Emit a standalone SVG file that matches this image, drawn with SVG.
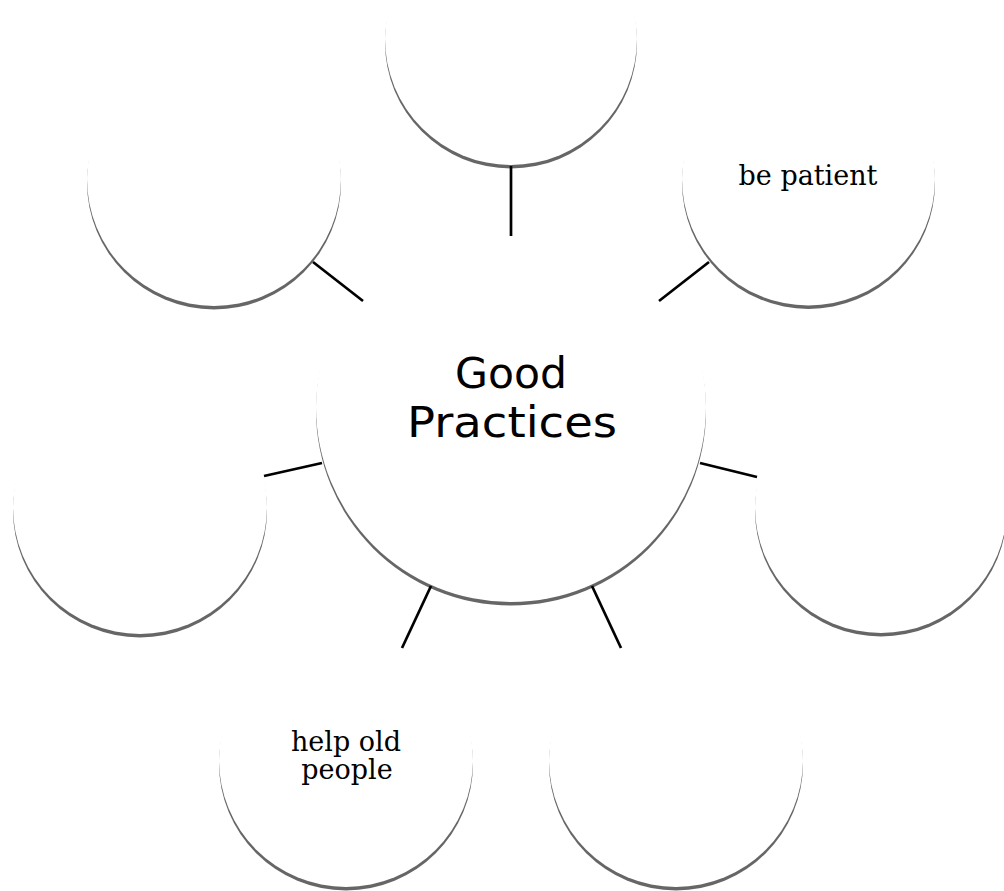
<svg xmlns="http://www.w3.org/2000/svg" width="1004" height="891" viewBox="0 0 1004 891">
  <defs>
    <filter id="blur" x="-5%" y="-5%" width="110%" height="110%">
      <feGaussianBlur stdDeviation="0.7"/>
    </filter>
  </defs>
  <style>
    .sh { fill: #666666; filter: url(#blur); }
    .bub { fill: #ffffff; }
    .conn line { stroke: #000000; stroke-width: 2.7; stroke-linecap: butt; }
    .hand { font-family: "Comic Sans MS", "DejaVu Sans", sans-serif; font-size: 42px; fill: #000; text-anchor: middle; }
    .lbl { font-family: "DejaVu Serif", "Liberation Serif", serif; font-size: 27px; fill: #000; text-anchor: middle; }
  </style>
  <rect width="1004" height="891" fill="#ffffff"/>

  <g id="node-top">
    <circle class="sh" cx="511" cy="42.5" r="126"/>
    <circle class="bub" cx="511" cy="39" r="126"/>
  </g>

  <g id="node-top-left">
    <circle class="sh" cx="214" cy="182.5" r="127"/>
    <circle class="bub" cx="214" cy="179" r="127"/>
  </g>

  <g id="node-top-right">
    <circle class="sh" cx="808.5" cy="182.5" r="126.5"/>
    <circle class="bub" cx="808.5" cy="179" r="126.5"/>
    <text class="lbl" x="808" y="185">be patient</text>
  </g>

  <g id="node-center">
    <circle class="sh" cx="511" cy="410.5" r="195"/>
    <circle class="bub" cx="511" cy="407" r="195"/>
    <text class="hand" x="511" y="388" textLength="112" lengthAdjust="spacingAndGlyphs">Good</text>
    <text class="hand" x="512" y="437" textLength="210" lengthAdjust="spacingAndGlyphs">Practices</text>
  </g>

  <g id="node-left">
    <circle class="sh" cx="140" cy="510.5" r="127"/>
    <circle class="bub" cx="140" cy="507" r="127"/>
  </g>

  <g id="node-right">
    <circle class="sh" cx="881" cy="510.5" r="126"/>
    <circle class="bub" cx="881" cy="507" r="126"/>
  </g>

  <g id="node-bottom-left">
    <circle class="sh" cx="346" cy="763.5" r="127"/>
    <circle class="bub" cx="346" cy="760" r="127"/>
    <text class="lbl" x="346" y="751">help old</text>
    <text class="lbl" x="347" y="779">people</text>
  </g>

  <g id="node-bottom-right">
    <circle class="sh" cx="676" cy="763.5" r="127"/>
    <circle class="bub" cx="676" cy="760" r="127"/>
  </g>

  <g id="connectors" class="conn">
    <line x1="511" y1="166" x2="511" y2="236"/>
    <line x1="313" y1="262" x2="363" y2="301"/>
    <line x1="709" y1="262" x2="659" y2="301"/>
    <line x1="264" y1="476" x2="322" y2="463"/>
    <line x1="700" y1="463" x2="757" y2="477"/>
    <line x1="431" y1="586" x2="402" y2="648"/>
    <line x1="592" y1="586" x2="621" y2="648"/>
  </g>
</svg>
